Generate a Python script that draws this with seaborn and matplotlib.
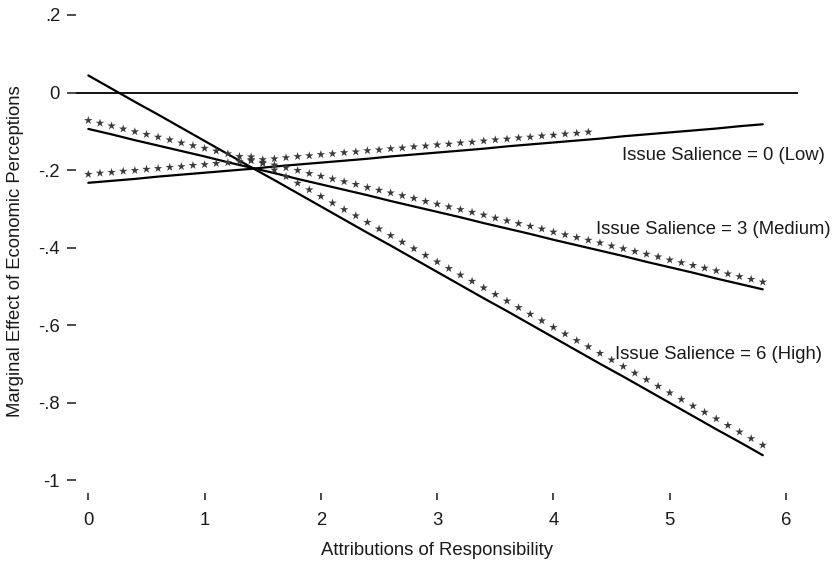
import numpy as np
import pandas as pd
import matplotlib
matplotlib.use('Agg')
import matplotlib.pyplot as plt
import seaborn as sns

# evaluation grids for attributions of responsibility
x_solid = np.round(np.arange(0, 5.81, 0.2), 1)
x_star = np.round(np.arange(0, 5.81, 0.1), 1)

# marginal effect lines (solid)
low_solid = [-0.233, -0.228, -0.223, -0.217, -0.212, -0.207, -0.202, -0.197, -0.191, -0.186,
             -0.181, -0.176, -0.171, -0.165, -0.160, -0.155, -0.150, -0.145, -0.139, -0.134,
             -0.129, -0.124, -0.119, -0.113, -0.108, -0.103, -0.098, -0.093, -0.087, -0.082]
medium_solid = [-0.094, -0.108, -0.123, -0.137, -0.151, -0.165, -0.180, -0.194, -0.208, -0.223,
                -0.237, -0.251, -0.265, -0.280, -0.294, -0.308, -0.322, -0.337, -0.351, -0.365,
                -0.380, -0.394, -0.408, -0.422, -0.437, -0.451, -0.465, -0.480, -0.494, -0.508]
high_solid = [0.044, 0.010, -0.024, -0.057, -0.091, -0.125, -0.159, -0.193, -0.226, -0.260,
              -0.294, -0.328, -0.362, -0.395, -0.429, -0.463, -0.497, -0.531, -0.564, -0.598,
              -0.632, -0.666, -0.700, -0.733, -0.767, -0.801, -0.835, -0.869, -0.902, -0.936]

# starred series (0.1 steps; low ends at 4.3, high starts at 1.4)
low_star = [-0.211, -0.208, -0.206, -0.203, -0.201, -0.198, -0.196, -0.193, -0.191, -0.188,
            -0.186, -0.183, -0.181, -0.178, -0.176, -0.173, -0.171, -0.168, -0.165, -0.163,
            -0.160, -0.158, -0.155, -0.153, -0.150, -0.148, -0.145, -0.143, -0.140, -0.138,
            -0.135, -0.133, -0.130, -0.128, -0.125, -0.122, -0.120, -0.117, -0.115, -0.112,
            -0.110, -0.107, -0.105, -0.102]
medium_star = [-0.072, -0.079, -0.086, -0.094, -0.101, -0.108, -0.115, -0.122, -0.130, -0.137,
               -0.144, -0.151, -0.158, -0.165, -0.173, -0.180, -0.187, -0.194, -0.201, -0.209,
               -0.216, -0.223, -0.230, -0.237, -0.245, -0.252, -0.259, -0.266, -0.273, -0.281,
               -0.288, -0.295, -0.302, -0.309, -0.316, -0.324, -0.331, -0.338, -0.345, -0.352,
               -0.360, -0.367, -0.374, -0.381, -0.388, -0.396, -0.403, -0.410, -0.417, -0.424,
               -0.432, -0.439, -0.446, -0.453, -0.460, -0.468, -0.475, -0.482, -0.489]
high_star = [-0.166, -0.183, -0.200, -0.217, -0.234, -0.251, -0.268, -0.285, -0.302, -0.318,
             -0.335, -0.352, -0.369, -0.386, -0.403, -0.420, -0.437, -0.454, -0.471, -0.487,
             -0.504, -0.521, -0.538, -0.555, -0.572, -0.589, -0.606, -0.623, -0.640, -0.656,
             -0.673, -0.690, -0.707, -0.724, -0.741, -0.758, -0.775, -0.792, -0.809, -0.825,
             -0.842, -0.859, -0.876, -0.893, -0.910]

labels = ['Issue Salience = 0 (Low)', 'Issue Salience = 3 (Medium)', 'Issue Salience = 6 (High)']
label_x = [4.59, 4.37, 4.53]
label_y = [-0.162, -0.353, -0.675]

xticks = [0, 1, 2, 3, 4, 5, 6]
yticks = [-1, -0.8, -0.6, -0.4, -0.2, 0, 0.2]
ytick_labels = ['-1', '-.8', '-.6', '-.4', '-.2', '0', '.2']


def build_frames():
    solid = pd.concat([
        pd.DataFrame({'x': x_solid, 'y': low_solid, 'series': 'low'}),
        pd.DataFrame({'x': x_solid, 'y': medium_solid, 'series': 'medium'}),
        pd.DataFrame({'x': x_solid, 'y': high_solid, 'series': 'high'}),
    ])
    stars = pd.concat([
        pd.DataFrame({'x': x_star[:len(low_star)], 'y': low_star}),
        pd.DataFrame({'x': x_star, 'y': medium_star}),
        pd.DataFrame({'x': x_star[-len(high_star):], 'y': high_star}),
    ])
    return solid, stars


def plot_effects(solid, stars):
    sns.set_style('white')
    plt.rcParams['font.family'] = ['Liberation Sans', 'DejaVu Sans']
    fs = 13.3

    fig = plt.figure(figsize=(8.33, 5.63), dpi=100)
    ax = fig.add_axes([76 / 833, 1 - 493 / 563, 722 / 833, 483 / 563])

    ax.axhline(0, color='black', lw=1.3, zorder=1)
    sns.lineplot(data=solid, x='x', y='y', units='series', estimator=None,
                 color='black', lw=1.6, ax=ax, zorder=2)
    sns.scatterplot(data=stars, x='x', y='y', marker='*', s=40, color='#3a3a3a',
                    edgecolor='none', linewidth=0, ax=ax, zorder=3)

    for txt, tx, ty in zip(labels, label_x, label_y):
        ax.text(tx, ty, txt, fontsize=fs, ha='left', va='center', color='#1a1a1a')

    ax.set_xlim(-0.106, 6.103)
    ax.set_ylim(-1.0335, 0.2129)
    ax.set_xticks(xticks)
    ax.set_yticks(yticks)
    ax.set_yticklabels(ytick_labels)
    ax.tick_params(axis='y', left=True, direction='out', length=6.5, width=1.1,
                   pad=5, labelsize=fs, colors='#1a1a1a')
    ax.tick_params(axis='x', bottom=True, direction='out', length=5, width=1.1,
                   pad=9, labelsize=fs, colors='#1a1a1a')
    sns.despine(ax=ax, left=True, bottom=True)

    ax.set_xlabel('Attributions of Responsibility', fontsize=fs, labelpad=9, color='#1a1a1a')
    ax.set_ylabel('Marginal Effect of Economic Perceptions', fontsize=fs, labelpad=10, color='#1a1a1a')

    fig.savefig('out.png', dpi=100)


if __name__ == '__main__':
    solid_df, star_df = build_frames()
    plot_effects(solid_df, star_df)
